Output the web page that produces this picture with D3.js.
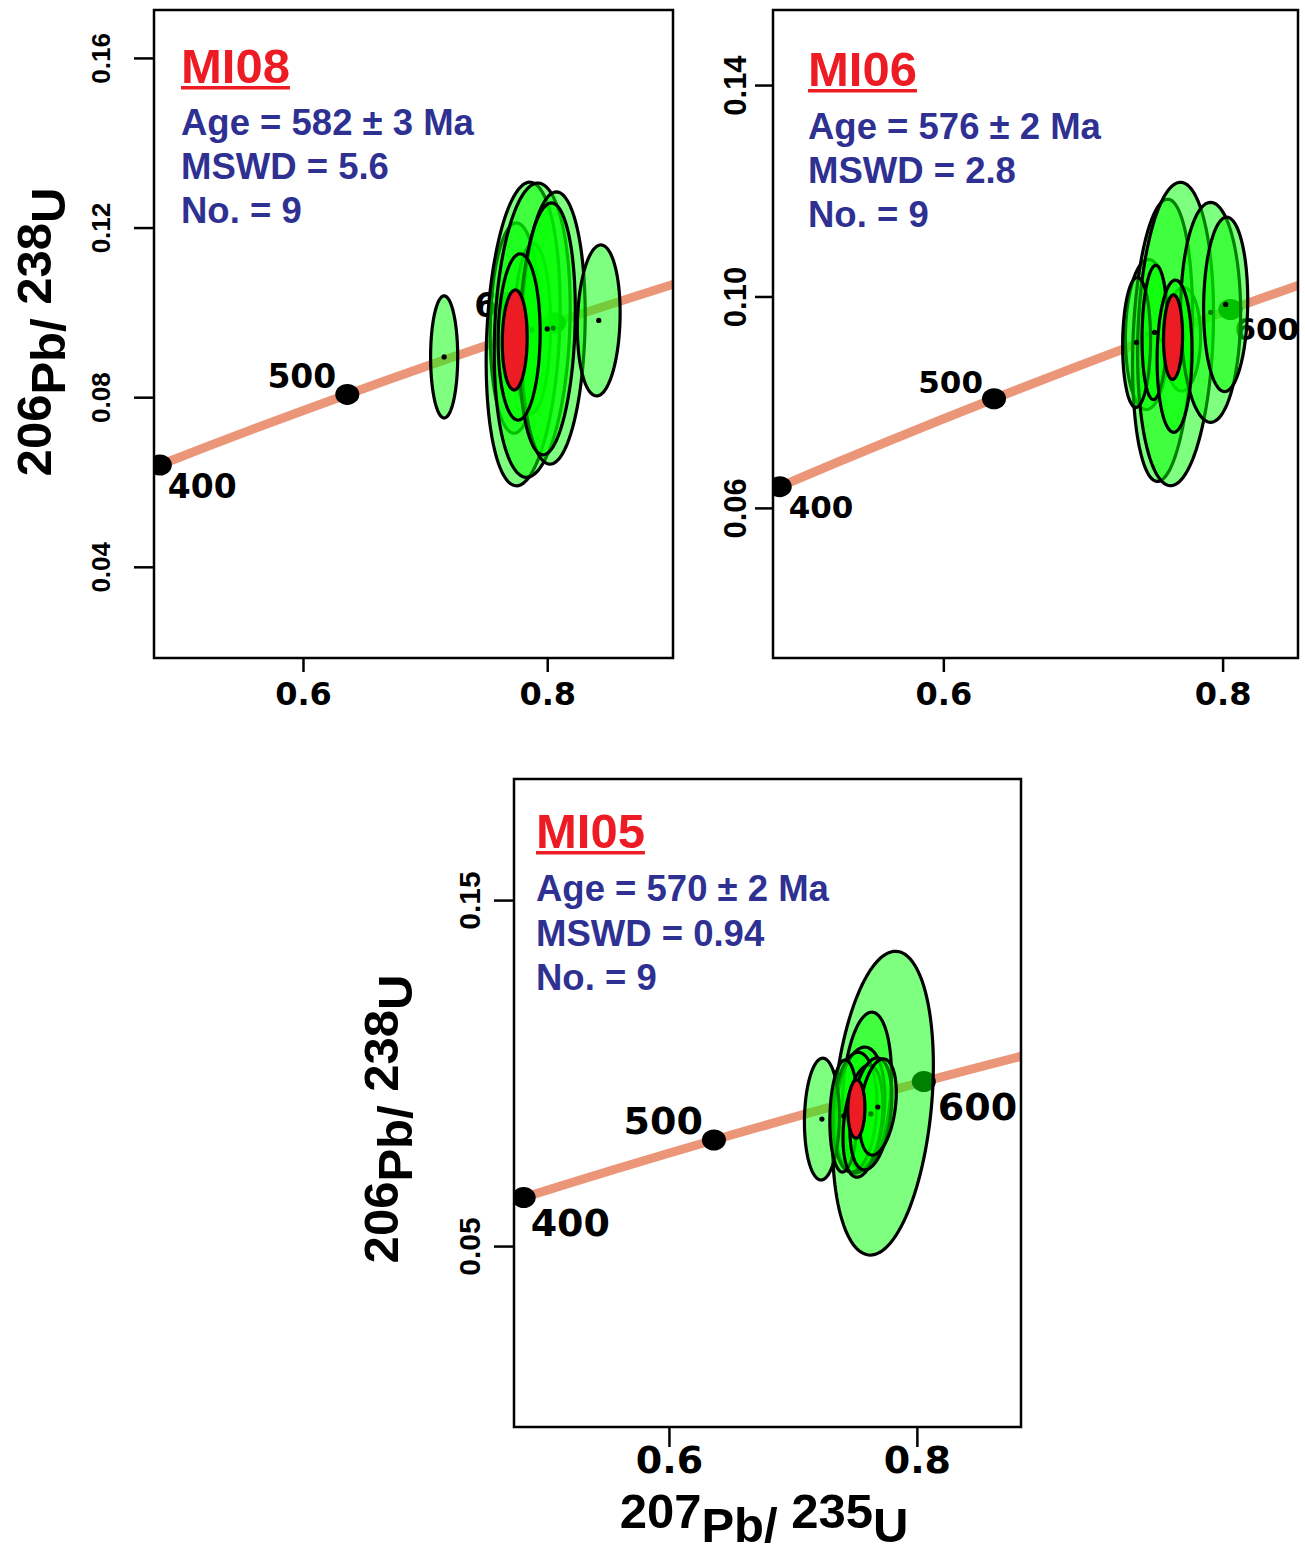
<!DOCTYPE html>
<html>
<head>
<meta charset="utf-8">
<script src="https://d3js.org/d3.v7.min.js"></script>
<style>
	body { margin: 0; background: #fff; }
	#vis svg { display: block; }
</style>
</head>
<body>
<div id="vis"></div>
<script>

// concordia reference points (Ma) and their 207Pb/235U, 206Pb/238U ratios
var concordiaAges = [300, 400, 500, 600, 700];
var concordiaX = [0.3437, 0.4828, 0.6363, 0.8056, 0.9925];
var concordiaY = [0.04764, 0.06402, 0.08065, 0.09754, 0.11470];
var markedAges = [400, 500, 600];

// MI08 - analyses in drawing order (centre, half axes, correlation)
var mi08X   = [0.7738, 0.7877, 0.7803, 0.7877, 0.8049, 0.8000, 0.7770, 0.7156, 0.8422];
var mi08Y   = [0.0963, 0.0962, 0.0949, 0.0958, 0.0963, 0.0961, 0.0942, 0.0895, 0.0981];
var mi08Sx  = [0.0205, 0.0150, 0.0303, 0.0311, 0.0262, 0.0230, 0.0172, 0.0111, 0.0175];
var mi08Sy  = [0.0248, 0.0200, 0.0358, 0.0347, 0.0321, 0.0297, 0.0196, 0.0144, 0.0178];
var mi08Rho = [0.05, 0.05, 0.18, 0.15, 0.10, 0.15, 0.05, 0.0, 0.10];
var mi08Mean = [0.7734, 0.0935, 0.0102, 0.0118, 0.05];
var mi08Stats = ["Age = 582 \u00b1 3 Ma", "MSWD = 5.6", "No. = 9"];
var mi08XDomain = [0.478, 0.903];
var mi08YDomain = [0.0185, 0.1713];
var mi08XTicks = [0.6, 0.8];
var mi08YTicks = [0.04, 0.08, 0.12, 0.16];

// MI06
var mi06X   = [0.7462, 0.7713, 0.7570, 0.7663, 0.7914, 0.8022, 0.7384, 0.7513, 0.7656];
var mi06Y   = [0.0928, 0.0919, 0.0917, 0.0929, 0.0970, 0.0985, 0.0913, 0.0932, 0.0887];
var mi06Sx  = [0.0158, 0.0129, 0.0215, 0.0272, 0.0215, 0.0158, 0.0100, 0.0090, 0.0125];
var mi06Sy  = [0.0142, 0.0098, 0.0267, 0.0287, 0.0208, 0.0165, 0.0123, 0.0127, 0.0144];
var mi06Rho = [0.05, 0.05, 0.17, 0.13, 0.0, 0.05, 0.05, 0.10, 0.05];
var mi06Mean = [0.7645, 0.0923, 0.0068, 0.0080, 0.05];
var mi06Stats = ["Age = 576 \u00b1 2 Ma", "MSWD = 2.8", "No. = 9"];
var mi06XDomain = [0.478, 0.854];
var mi06YDomain = [0.0316, 0.1542];
var mi06XTicks = [0.6, 0.8];
var mi06YTicks = [0.06, 0.10, 0.14];

// MI05
var mi05X   = [0.7726, 0.7597, 0.7540, 0.7500, 0.7234, 0.7411, 0.7565, 0.7629, 0.7685];
var mi05Y   = [0.0913, 0.0948, 0.0893, 0.0887, 0.0867, 0.0876, 0.0861, 0.0882, 0.0902];
var mi05Sx  = [0.0407, 0.0198, 0.0202, 0.0177, 0.0141, 0.0113, 0.0161, 0.0169, 0.0149];
var mi05Sy  = [0.0439, 0.0228, 0.0182, 0.0173, 0.0176, 0.0162, 0.0162, 0.0162, 0.0139];
var mi05Rho = [0.25, 0.20, 0.20, 0.15, 0.05, 0.10, 0.30, 0.30, 0.30];
var mi05Mean = [0.7512, 0.0896, 0.0069, 0.0084, 0.05];
var mi05Stats = ["Age = 570 \u00b1 2 Ma", "MSWD = 0.94", "No. = 9"];
var mi05XDomain = [0.475, 0.884];
var mi05YDomain = [-0.0023, 0.185];
var mi05XTicks = [0.6, 0.8];
var mi05YTicks = [0.05, 0.15];

var yTitleParts = ["206", "Pb/ ", "238", "U"];
var xTitleParts = ["207", "Pb/ ", "235", "U"];

var width = 1305, height = 1552;

var panels = [
	{ name: "MI08", ex: mi08X, ey: mi08Y, sx: mi08Sx, sy: mi08Sy, rho: mi08Rho, mean: mi08Mean, stats: mi08Stats,
	  xDomain: mi08XDomain, yDomain: mi08YDomain, xTicks: mi08XTicks, yTicks: mi08YTicks, yFmt: ".2f",
	  box: {x: 154, y: 10, w: 519, h: 648}, title: {x: 181, y: 83}, statsY: [135, 179, 223],
	  ageFont: 33, ageSide: {400: "below", 500: "above", 600: "above"}, ageDx: {400: 8, 600: 8},
	  xTickLen: 14, xLabY: 47, xFont: 32, yTickLen: 20, yLabK: 44, yFont: 26,
	  yTitle: {x: 51, y: 332}, xTitle: null },
	{ name: "MI06", ex: mi06X, ey: mi06Y, sx: mi06Sx, sy: mi06Sy, rho: mi06Rho, mean: mi06Mean, stats: mi06Stats,
	  xDomain: mi06XDomain, yDomain: mi06YDomain, xTicks: mi06XTicks, yTicks: mi06YTicks, yFmt: ".2f",
	  box: {x: 773, y: 10, w: 525, h: 648}, title: {x: 808, y: 86}, statsY: [139, 183, 227],
	  ageFont: 31, ageSide: {400: "below", 500: "above", 600: "below"}, ageDx: {400: 9, 600: 4},
	  xTickLen: 14, xLabY: 47, xFont: 32, yTickLen: 18, yLabK: 27, yFont: 31,
	  yTitle: null, xTitle: null },
	{ name: "MI05", ex: mi05X, ey: mi05Y, sx: mi05Sx, sy: mi05Sy, rho: mi05Rho, mean: mi05Mean, stats: mi05Stats,
	  xDomain: mi05XDomain, yDomain: mi05YDomain, xTicks: mi05XTicks, yTicks: mi05YTicks, yFmt: ".2f",
	  box: {x: 514, y: 779, w: 507, h: 648}, title: {x: 536, y: 848}, statsY: [901, 946, 990],
	  ageFont: 38, ageSide: {400: "below", 500: "above", 600: "below"}, ageDx: {400: 7, 600: 14},
	  xTickLen: 20, xLabY: 46, xFont: 38, yTickLen: 20, yLabK: 34, yFont: 30,
	  yTitle: {x: 398, y: 1119}, xTitle: {x: 764, y: 1528} }
];

var svg = d3.select("#vis").append("svg")
	.attr("width", width)
	.attr("height", height);

function ellipsePath(cx, cy, sx, sy, rho, xScale, yScale) {
	var k = Math.sqrt(1 - rho * rho);
	var pts = d3.range(0, 120).map(function(i) {
		var t = i / 120 * 2 * Math.PI;
		return [xScale(cx + sx * Math.cos(t)), yScale(cy + sy * (rho * Math.cos(t) + k * Math.sin(t)))];
	});
	return d3.line().curve(d3.curveLinearClosed)(pts);
}

function isotopeTitle(sel, parts, pos, rotate) {
	var t = sel.append("text")
		.attr("transform", "translate(" + pos.x + "," + pos.y + ")" + (rotate ? " rotate(-90)" : ""))
		.attr("text-anchor", "middle")
		.style("font-family", "'Liberation Sans', Arial, sans-serif")
		.style("font-weight", "bold")
		.style("font-size", "49px")
		.attr("fill", "#000");
	parts.forEach(function(s, i) {
		t.append("tspan")
			.attr("dy", i == 0 ? 0 : (i % 2 == 1 ? 14 : -14))
			.text(s);
	});
}

function drawPanel(p, idx) {

	var xScale = d3.scaleLinear().domain(p.xDomain).range([p.box.x, p.box.x + p.box.w]);
	var yScale = d3.scaleLinear().domain(p.yDomain).range([p.box.y + p.box.h, p.box.y]);

	var g = svg.append("g").attr("class", "panel");

	g.append("clipPath").attr("id", "clip" + idx)
		.append("rect")
		.attr("x", p.box.x).attr("y", p.box.y)
		.attr("width", p.box.w).attr("height", p.box.h);

	var plot = g.append("g").attr("clip-path", "url(#clip" + idx + ")");

	// concordia curve
	var conc = concordiaAges.map(function(a, i) { return [concordiaX[i], concordiaY[i]]; });
	plot.append("path")
		.attr("d", d3.line()
			.x(function(d) { return xScale(d[0]); })
			.y(function(d) { return yScale(d[1]); })
			.curve(d3.curveCatmullRom)(conc))
		.attr("fill", "none")
		.attr("stroke", "#EB9678")
		.attr("stroke-width", 9);

	markedAges.forEach(function(age) {
		var i = concordiaAges.indexOf(age);
		var cx = xScale(concordiaX[i]), cy = yScale(concordiaY[i]);
		plot.append("ellipse")
			.attr("cx", cx).attr("cy", cy)
			.attr("rx", 12).attr("ry", 10.5)
			.attr("fill", "#000");
		var above = p.ageSide[age] == "above";
		plot.append("text")
			.attr("x", above ? cx - 11 : cx + p.ageDx[age])
			.attr("y", above ? cy - 6 : cy + p.ageFont)
			.attr("text-anchor", above ? "end" : "start")
			.style("font-family", "'DejaVu Sans', sans-serif")
			.style("font-weight", "bold")
			.style("font-size", p.ageFont + "px")
			.text(age);
	});

	// analyses
	p.ex.forEach(function(x, i) {
		plot.append("path")
			.attr("d", ellipsePath(x, p.ey[i], p.sx[i], p.sy[i], p.rho[i], xScale, yScale))
			.attr("fill", "rgba(0,255,0,0.5)")
			.attr("stroke", "#000")
			.attr("stroke-width", 3.2);
		plot.append("circle")
			.attr("cx", xScale(x)).attr("cy", yScale(p.ey[i]))
			.attr("r", 2.6)
			.attr("fill", "#000");
	});

	// concordia age ellipse
	plot.append("path")
		.attr("d", ellipsePath(p.mean[0], p.mean[1], p.mean[2], p.mean[3], p.mean[4], xScale, yScale))
		.attr("fill", "#ED1C24")
		.attr("stroke", "#000")
		.attr("stroke-width", 3.2);

	g.append("rect")
		.attr("x", p.box.x).attr("y", p.box.y)
		.attr("width", p.box.w).attr("height", p.box.h)
		.attr("fill", "none")
		.attr("stroke", "#000")
		.attr("stroke-width", 2.5);

	// axes
	var xAxis = g.append("g")
		.attr("transform", "translate(0," + (p.box.y + p.box.h) + ")")
		.call(d3.axisBottom(xScale).tickValues(p.xTicks).tickSize(p.xTickLen).tickFormat(d3.format(".1f")));
	xAxis.select(".domain").remove();
	xAxis.selectAll("line").attr("stroke-width", 2.5);
	xAxis.selectAll("text")
		.attr("y", p.xLabY).attr("dy", 0)
		.style("font-family", "'DejaVu Sans', sans-serif")
		.style("font-weight", "bold")
		.style("font-size", p.xFont + "px");

	var yAxis = g.append("g")
		.attr("transform", "translate(" + p.box.x + ",0)")
		.call(d3.axisLeft(yScale).tickValues(p.yTicks).tickSize(p.yTickLen).tickFormat(d3.format(p.yFmt)));
	yAxis.select(".domain").remove();
	yAxis.selectAll("line").attr("stroke-width", 2.5);
	yAxis.selectAll("text")
		.attr("x", 0).attr("y", -p.yLabK).attr("dy", 0)
		.attr("transform", "rotate(-90)")
		.attr("text-anchor", "middle")
		.style("font-family", "'Liberation Sans Narrow', 'Arial Narrow', 'Liberation Sans', sans-serif")
		.style("font-weight", "bold")
		.style("font-size", p.yFont + "px");

	// sample name and statistics
	var title = g.append("text")
		.attr("x", p.title.x).attr("y", p.title.y)
		.style("font-family", "'Liberation Sans', Arial, sans-serif")
		.style("font-weight", "bold")
		.style("font-size", "49px")
		.attr("fill", "#ED1C24")
		.text(p.name);
	var tw = title.node().getComputedTextLength();
	g.append("rect")
		.attr("x", p.title.x).attr("y", p.title.y + 3)
		.attr("width", tw).attr("height", 3.5)
		.attr("fill", "#ED1C24");

	p.stats.forEach(function(s, i) {
		g.append("text")
			.attr("x", p.title.x).attr("y", p.statsY[i])
			.style("font-family", "'Liberation Sans', Arial, sans-serif")
			.style("font-weight", "bold")
			.style("font-size", "36.5px")
			.attr("fill", "#2E3192")
			.text(s);
	});

	if (p.yTitle) isotopeTitle(g, yTitleParts, p.yTitle, true);
	if (p.xTitle) isotopeTitle(g, xTitleParts, p.xTitle, false);
}

panels.forEach(drawPanel);

</script>
</body>
</html>
